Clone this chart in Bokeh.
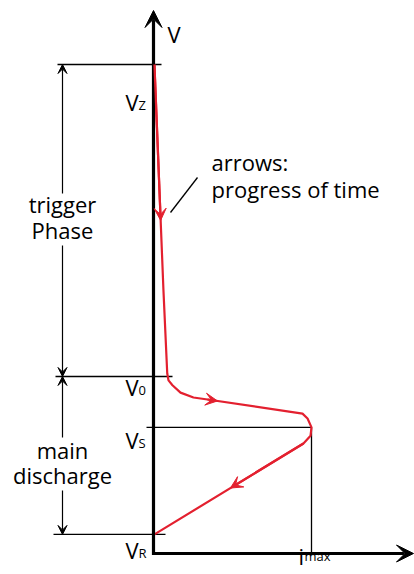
from bokeh.plotting import figure
from bokeh.models import Range1d, Arrow, VeeHead, Label
from bokeh.embed import file_html
from bokeh.resources import INLINE

# ---------------- data (arbitrary units: current i, voltage V) ----------------
level_names = ["Z", "0", "S", "R"]
level_values = [1000, 362, 258, 39]          # V_Z, V_0, V_S, V_R
I_MAX = 1.0
curve_i = [0.006, 0.063, 0.087, 0.095, 0.120, 0.171, 0.253, 0.342,
           0.943, 0.975, 1.000, 0.994, 0.949, 0.006]
curve_V = [1000, 538, 368, 354, 344, 329, 319, 315,
           286, 276, 258, 241, 225, 39]
# arrows on the curve: (segment index, fraction of segment where the tip is)
curve_arrows = [(0, 0.69), (7, 0.105), (12, 0.49)]
phase_labels = [["trigger", "Phase"], ["main", "discharge"]]
note_lines = ["arrows:", "progress of time"]

V_Z, V_0, V_S, V_R = level_values

# ---------------- layout ----------------
W, H = 414, 574
OX, OY = 153, 553            # origin position inside the plot (px)
PX_I = 158.0                 # px per unit of i
PX_V = 0.489                 # px per unit of V
TXT_SHIFT = 9                # px correction for text baseline

def X(px):   # plot-pixel -> data i
    return (px - OX) / PX_I

def Y(py):   # plot-pixel -> data V
    return (OY - py) / PX_V

RED = "#e3202f"
FONT = "Open Sans"
FS = "22px"
SUB = "13px"

p = figure(width=W, height=H, output_backend="svg", toolbar_location=None,
           x_range=Range1d(X(0), X(W)), y_range=Range1d(Y(H), Y(0)),
           x_axis_type=None, y_axis_type=None, min_border=0,
           outline_line_color=None, background_fill_color="white",
           border_fill_color="white")
p.grid.visible = False

# level lines
p.line([X(57), X(161)], [V_Z, V_Z], line_color="black", line_width=1.3)
p.line([X(55), X(172)], [V_0, V_0], line_color="black", line_width=1.3)
p.line([X(146), I_MAX * 1.0], [V_S, V_S], line_color="black", line_width=1.3)
p.line([I_MAX, I_MAX], [0, V_S], line_color="black", line_width=1.3)
p.line([X(53), X(165)], [V_R, V_R], line_color="black", line_width=1.3)

# axes with arrow heads
p.add_layout(Arrow(x_start=0, y_start=Y(OY + 1.5), x_end=0, y_end=Y(10),
                   line_color="black", line_width=3.2,
                   end=VeeHead(size=17, fill_color="black", line_color="black")))
p.add_layout(Arrow(x_start=X(OX - 1.5), y_start=0, x_end=X(413), y_end=0,
                   line_color="black", line_width=3.2,
                   end=VeeHead(size=17, fill_color="black", line_color="black")))

# red curve
p.line(curve_i, curve_V, line_color=RED, line_width=2.2, line_join="round")
for seg, f in curve_arrows:
    x0, y0 = curve_i[seg], curve_V[seg]
    x1, y1 = curve_i[seg + 1], curve_V[seg + 1]
    tx, ty = x0 + f * (x1 - x0), y0 + f * (y1 - y0)
    p.add_layout(Arrow(x_start=x0, y_start=y0, x_end=tx, y_end=ty,
                       line_color=RED, line_width=2.2,
                       end=VeeHead(size=12, fill_color=RED, line_color=RED)))

# dimension arrows
DX = X(62)
def dim(y_from, y_to):
    p.add_layout(Arrow(x_start=DX, y_start=y_from, x_end=DX, y_end=y_to,
                       line_color="black", line_width=1.2,
                       end=VeeHead(size=9, fill_color="black", line_color="black")))
dim(Y(193), V_Z)
dim(Y(245), V_0)
dim(Y(437), V_0)
dim(Y(490), V_R)

# labels
def label(txt, x, y, size=FS, align="left"):
    p.add_layout(Label(x=x, y=y + TXT_SHIFT / PX_V, text=txt, text_font=FONT,
                       text_font_size=size, text_align=align,
                       text_baseline="alphabetic", text_color="black"))

label(phase_labels[0][0], DX, Y(212), align="center")
label(phase_labels[0][1], DX, Y(238), align="center")
label(phase_labels[1][0], DX, Y(458), align="center")
label(phase_labels[1][1], DX, Y(483), align="center")

# note
label(note_lines[0], X(211), Y(170))
label(note_lines[1], X(211), Y(197))
p.line([X(197), X(170)], [Y(177), Y(212)], line_color="black", line_width=1.3)

# axis labels
label("V", X(167), Y(42))
level_label_dy = [46, 20, 22, 25]
for name, val, dy in zip(level_names, level_values, level_label_dy):
    label("V", X(138), val - dy / PX_V, align="right")
    label(name, X(138), val - (dy + 3) / PX_V, size=SUB)
label("i", X(298), Y(564))
label("max", X(304), Y(564), size=SUB)

open("out.html", "w").write(file_html(p, INLINE))
